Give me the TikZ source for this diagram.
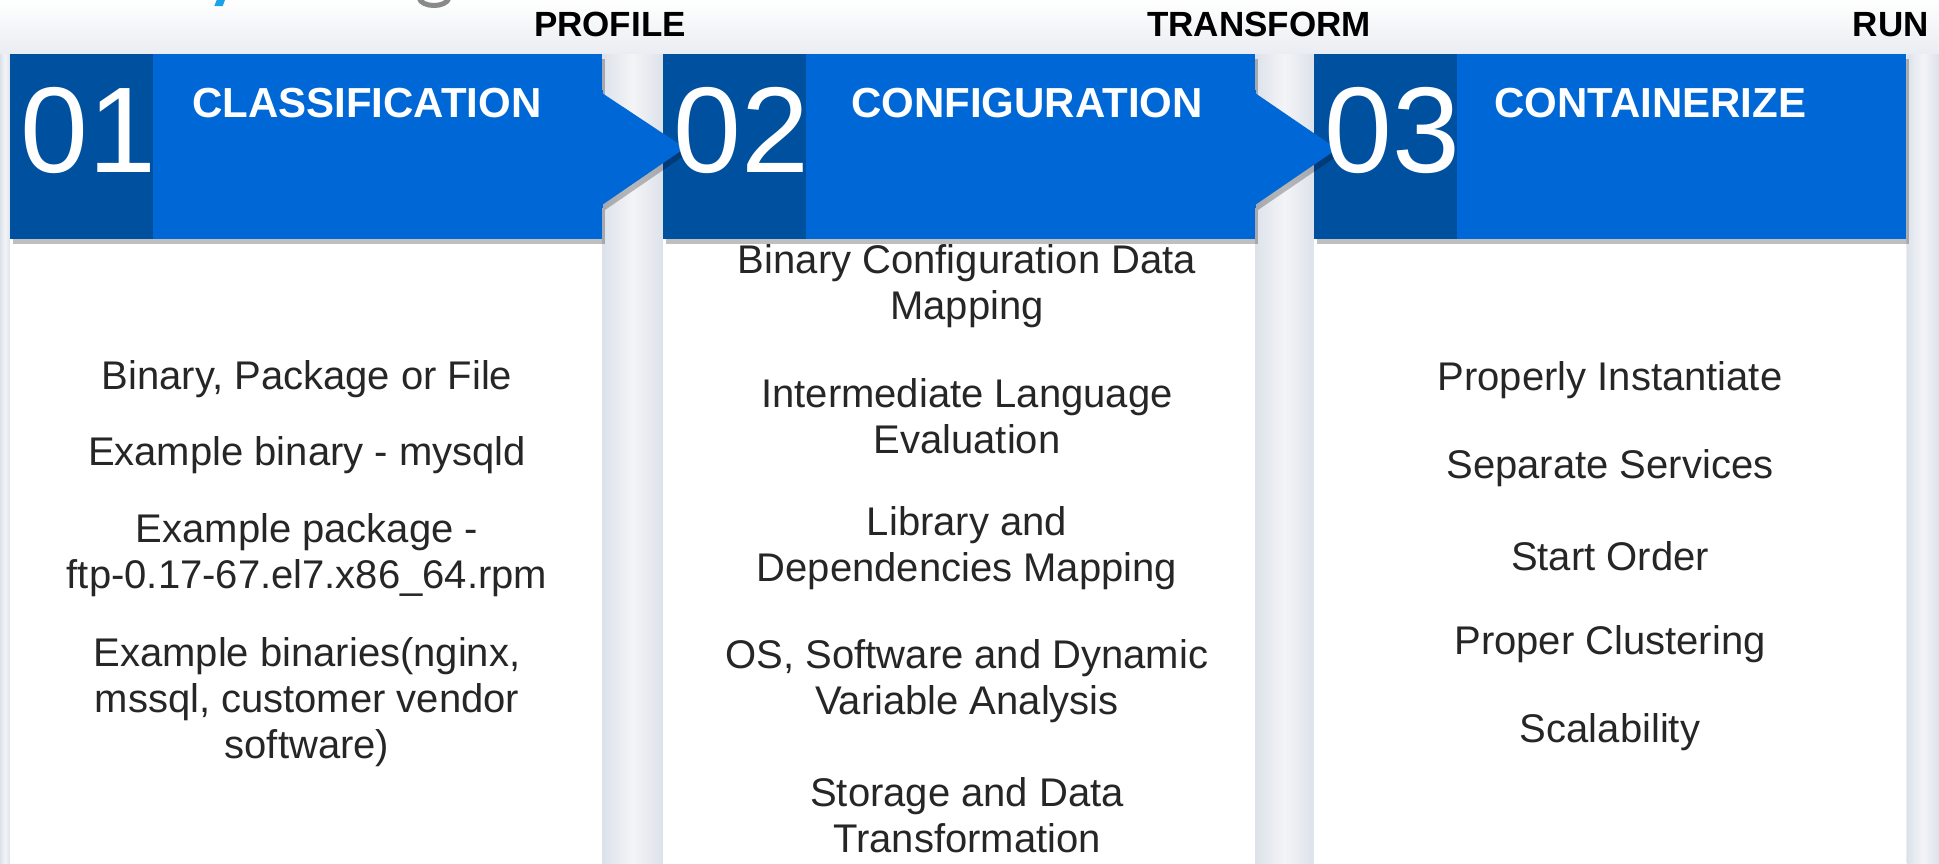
\documentclass[tikz,border=0pt]{standalone}
\usepackage{fontspec}
\setmainfont{Liberation Sans}
\usetikzlibrary{shadows}
\definecolor{darkblue}{HTML}{0050A0}
\definecolor{lightblue}{HTML}{0068D6}
\definecolor{bggray}{HTML}{E9ECF1}
\definecolor{gapedge}{HTML}{DDE2EA}
\definecolor{gapmid}{HTML}{F3F4F7}
\definecolor{bodytext}{HTML}{262626}
\definecolor{fragblue}{HTML}{1AA3E8}
\definecolor{fraggray}{HTML}{8A8A8A}
\begin{document}
\begin{tikzpicture}[x=1pt,y=-1pt,
  softshadow/.style={drop shadow={shadow xshift=3pt,shadow yshift=-5pt,opacity=.25,fill=black}},
  hdr/.style={fill=lightblue,draw=none,inner sep=0,minimum width=592pt,minimum height=185pt,anchor=north west,softshadow},
  hdrdark/.style={fill=darkblue,draw=none,inner sep=0,minimum width=143pt,minimum height=185pt,anchor=north west},
  bodybox/.style={fill=white,draw=none,inner sep=0,minimum width=592pt,minimum height=624pt,anchor=north west},
  num/.style={font=\fontsize{122}{122}\selectfont,text=white,anchor=base west,inner sep=0},
  ttl/.style={font=\bfseries\fontsize{42}{42}\selectfont,text=white,anchor=base west,inner sep=0},
  toplbl/.style={font=\bfseries\fontsize{35}{35}\selectfont,text=black,anchor=base east,inner sep=0},
  body/.style={font=\fontsize{40}{46}\selectfont,text=bodytext,align=center,inner sep=0,anchor=center},
  gap/.style={left color=gapedge,right color=gapedge,middle color=gapmid},
  arrowtri/.style={fill=lightblue,softshadow}
]
\useasboundingbox (0,0) rectangle (1939,863);
% background
\fill[bggray] (0,0) rectangle (1939,863);
\shade[top color=white,bottom color=bggray] (0,0) rectangle (1939,56);
\shade[gap] (0,54) rectangle (10,863);
\shade[gap] (602,54) rectangle (663,863);
\shade[gap] (1255,54) rectangle (1314,863);
\shade[gap] (1907,54) rectangle (1939,863);
% top fragments
\fill[fragblue] (216.7,0) -- (225,0) -- (222.7,6) -- (214.3,6) -- cycle;
\draw[fraggray,line width=5pt] (419,-2) .. controls (422,8) and (446,8) .. (449,-2);
% bodies
\node[bodybox] (b1) at (10,239) {};
\node[bodybox] (b2) at (663,239) {};
\node[bodybox] (b3) at (1314,239) {};
% headers
\node[hdr] (h1) at (10,54) {};
\node[hdrdark] (d1) at (10,54) {};
\node[hdr] (h2) at (663,54) {};
\node[hdrdark] (d2) at (663,54) {};
\node[hdr] (h3) at (1314,54) {};
\node[hdrdark] (d3) at (1314,54) {};
% arrows
\coordinate (a1t) at (602,93);
\coordinate (a1p) at (685,148);
\coordinate (a1b) at (602,205);
\fill[arrowtri] (a1t) -- (a1p) -- (a1b) -- cycle;
\coordinate (a2t) at (1255,93);
\coordinate (a2p) at (1337,149);
\coordinate (a2b) at (1255,205);
\fill[arrowtri] (a2t) -- (a2p) -- (a2b) -- cycle;
\fill[lightblue] (598,90) rectangle (603,208);
\fill[lightblue] (1251,90) rectangle (1256,208);
% numbers and titles
\node[num] (n1) at (20,172) {01};
\node[num] (n2) at (673,172) {02};
\node[num] (n3) at (1324,172) {03};
\node[ttl] (t1) at (192,117) {CLASSIFICATION};
\node[ttl] (t2) at (851,117) {CONFIGURATION};
\node[ttl] (t3) at (1494,117) {CONTAINERIZE};
% top labels
\node[toplbl] (l1) at (686,36) {PROFILE};
\node[toplbl] (l2) at (1371,36) {TRANSFORM};
\node[toplbl] (l3) at (1929,36) {RUN};
% body texts column 1
\node[body] (c11) at (307,379) {Binary, Package or File};
\node[body] (c12) at (307,455) {Example binary - mysqld};
\node[body] (c13) at (307,555) {Example package -\\ftp-0.17-67.el7.x86\_64.rpm};
\node[body] (c14) at (307,702) {Example binaries(nginx,\\mssql, customer vendor\\software)};
% column 2
\node[body] (c21) at (967,286) {Binary Configuration Data\\Mapping};
\node[body] (c22) at (967,416) {Intermediate Language\\Evaluation};
\node[body] (c23) at (967,548) {Library and\\Dependencies Mapping};
\node[body] (c24) at (967,681) {OS, Software and Dynamic\\Variable Analysis};
\node[body] (c25) at (967,815) {Storage and Data\\Transformation};
% column 3
\node[body] (c31) at (1610,380) {Properly Instantiate};
\node[body] (c32) at (1610,468) {Separate Services};
\node[body] (c33) at (1610,556) {Start Order};
\node[body] (c34) at (1610,644) {Proper Clustering};
\node[body] (c35) at (1610,732) {Scalability};
\end{tikzpicture}
\end{document}
